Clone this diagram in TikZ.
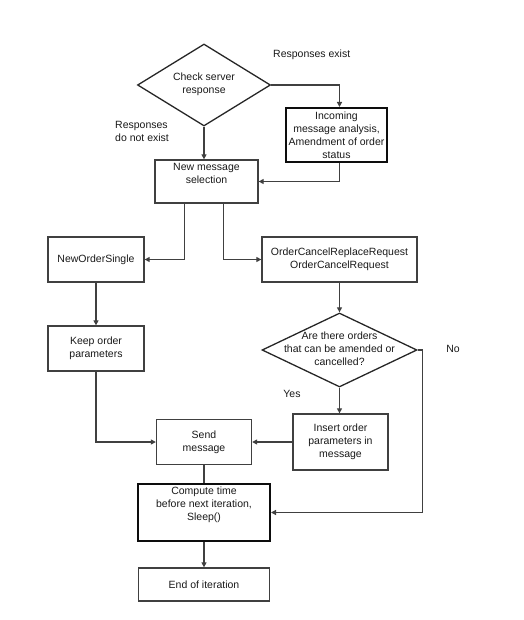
\documentclass[tikz,border=0pt]{standalone}
\usepackage{fontspec}
\setmainfont{Liberation Sans}
\usetikzlibrary{shapes.geometric,arrows.meta}

\begin{document}
\begin{tikzpicture}[x=1pt,y=-1pt,
    font=\fontsize{10.5}{13}\selectfont,
    every node/.style={text=black!90, inner sep=0pt},
    box/.style={draw=black!75, line width=1.3pt, align=center},
    bbox/.style={box, draw=black!95, line width=2pt},
    decision/.style={draw=black!85, line width=1.3pt, diamond},
    flow/.style={draw=black!75, line width=1.3pt, -{Triangle[length=5pt,width=5pt]}}]

    \useasboundingbox (0,0) rectangle (523,620);

    \draw(204,85) node[decision, minimum width=133pt, minimum height=82pt] (check) {};
    \draw(204,84) node[align=center] (checktxt) {Check server\\response};
    \draw(336.5,135) node[bbox, minimum width=101pt, minimum height=54pt] (incoming)
    {Incoming\\message analysis,\\Amendment of order\\status};
    \draw(206.5,181.5) node[box, minimum width=103pt, minimum height=43pt] (newmsg)
    {New message\\selection\\[3pt]};

    \draw(96,259.5) node[box, minimum width=96pt, minimum height=45pt] (nos) {NewOrderSingle};
    \draw(339.5,259.5) node[box, minimum width=155pt, minimum height=45pt] (ocr)
    {OrderCancelReplaceRequest\\OrderCancelRequest};
    \draw(96,348.5) node[box, minimum width=96pt, minimum height=45pt] (keep)
    {Keep order\\parameters};

    \draw(339.5,350) node[decision, minimum width=155pt, minimum height=74pt] (amend) {};
    \draw(339.5,349) node[align=center] (amendtxt)
    {Are there orders\\that can be amended or\\cancelled?};

    \draw(340.5,442) node[box, minimum width=95pt, minimum height=56pt] (insert)
    {Insert order\\parameters in\\message};
    \draw(204,442) node[box, minimum width=95pt, minimum height=45pt] (send) {Send\\message};
    \draw(204,512.5) node[bbox, minimum width=132pt, minimum height=57pt] (compute)
    {Compute time\\before next iteration,\\Sleep()\\[4pt]};
    \draw(204,584.5) node[box, minimum width=131pt, minimum height=33pt] (end) {End of iteration};

    \draw(273,55) node[anchor=west] (existlbl) {Responses exist};
    \draw(115,131) node[anchor=west, align=left] (noexistlbl) {Responses\\do not exist};
    \draw(453,349) node (nolbl) {No};
    \draw(292,394) node (yeslbl) {Yes};

    \draw[flow] (check.east) -| ([xshift=3pt]incoming.north);
    \draw[flow] ([xshift=3pt]incoming.south) |- (newmsg.east);
    \draw[flow] (check.south) -- (check.south |- newmsg.north);
    \draw[flow] ([xshift=-22pt]newmsg.south) |- (nos.east);
    \draw[flow] ([xshift=17pt]newmsg.south) |- (ocr.west);
    \draw[flow] (nos) -- (keep);
    \draw[flow] (ocr) -- (amend);
    \draw[flow] (amend.south) -- (amend.south |- insert.north);
    \draw[flow] (amend.east) -- ++(5,0) |- (compute.east);
    \draw[flow] (insert) -- (send);
    \draw[flow] (keep.south) |- (send.west);
    \draw[draw=black!75, line width=1.3pt] (send) -- (compute);
    \draw[flow] (compute) -- (end);

\end{tikzpicture}
\end{document}
